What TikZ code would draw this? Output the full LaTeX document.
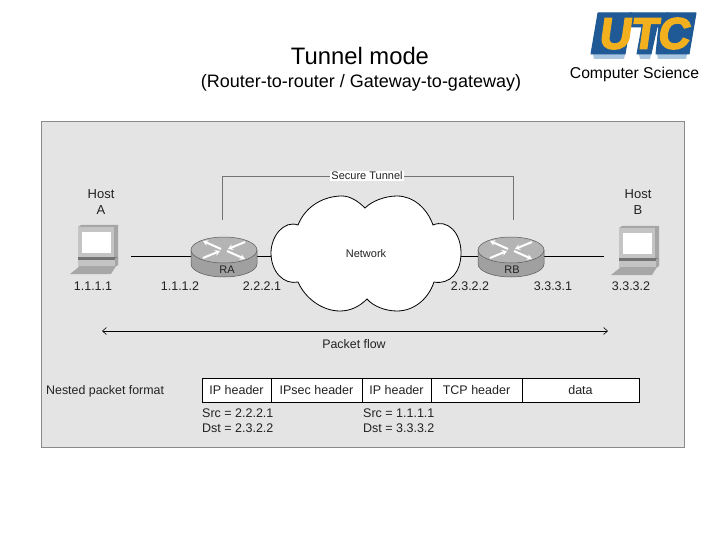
\documentclass[tikz,border=0pt]{standalone}
\usepackage{fontspec}
\setmainfont{Liberation Sans}
\newfontfamily\logofont[FakeSlant=0.14,FakeBold=3.5]{Liberation Sans Bold}
\usetikzlibrary{arrows.meta}
\definecolor{panelbg}{HTML}{E4E4E4}
\definecolor{panelline}{HTML}{8A8A8A}
\definecolor{txt}{HTML}{222222}
\definecolor{routertop}{HTML}{B4B4B4}
\definecolor{routerside}{HTML}{A0A0A0}
\definecolor{hostdark}{HTML}{A6A6A6}
\definecolor{hostmid}{HTML}{C4C4C4}
\definecolor{logoblue}{HTML}{1F5A96}
\definecolor{logogold}{HTML}{F2B01E}
\definecolor{logoshadow}{HTML}{A9C6E0}
\tikzset{
  lab/.style={font=\fontsize{12.5}{14}\selectfont,text=txt,inner sep=0pt},
  small/.style={font=\fontsize{12.4}{14}\selectfont,text=txt,inner sep=0pt},
  tiny/.style={font=\fontsize{11}{13}\selectfont,text=txt,inner sep=0pt},
  cell/.style={draw=black,line width=0.9pt,fill=white,inner sep=0pt,font=\fontsize{12.5}{14}\selectfont,text=txt},
  wire/.style={black,line width=0.9pt},
  tunnel/.style={draw=black!55,line width=0.8pt},
  crossarrow/.style={white,line width=2pt,-{Stealth[length=5pt,width=6pt]}},
}
\newcommand{\routerpic}[1]{%
  \begin{scope}[shift={(#1)}]
    \fill[routerside] (-33,0) -- (-33,14) arc[start angle=180,end angle=0,x radius=33,y radius=13] -- (33,0) -- cycle;
    \draw[black!65,line width=0.5pt] (-33,0) -- (-33,14) arc[start angle=180,end angle=0,x radius=33,y radius=13] -- (33,0);
    \fill[routertop,draw=black!65,line width=0.5pt] (0,0) ellipse[x radius=33,y radius=13];
    \draw[crossarrow] (-3,-1) -- (-21,-9);
    \draw[crossarrow] (3,1) -- (21,9);
    \draw[crossarrow] (-21,8) -- (-4,1);
    \draw[crossarrow] (21,-8) -- (4,-1);
  \end{scope}}
\newcommand{\hostpic}[1]{%
  \begin{scope}[shift={(#1)}]
    \fill[hostdark] (0,2) -- (3,0) -- (40,0) -- (40,40) -- (0,40) -- cycle;
    \fill[hostmid] (0,2) rectangle (36,32);
    \fill[white] (4,7) rectangle (33,28);
    \fill[black!55] (0,32) rectangle (40,35);
    \fill[hostmid] (0,35) rectangle (37,42);
    \fill[hostdark] (37,33) -- (40,32) -- (40,40) -- (37,42) -- cycle;
    \fill[hostmid!85!black] (2,41) -- (38,41) -- (33,49) -- (-8,49) -- cycle;
  \end{scope}}
\begin{document}
\begin{tikzpicture}[x=1pt,y=-1pt]
\useasboundingbox (0,0) rectangle (720,540);
\fill[white] (0,0) rectangle (720,540);
% titles
\node[font=\fontsize{23.8}{26}\selectfont,inner sep=0pt] (title) at (360,56) {Tunnel mode};
\node[font=\fontsize{18}{21}\selectfont,inner sep=0pt] (subtitle) at (361,82.5) {(Router-to-router / Gateway-to-gateway)};
\node[font=\fontsize{15.7}{18}\selectfont,inner sep=0pt] (dept) at (634.5,74.5) {Computer Science};
% logo
\fill[logoshadow] (592,50) -- (626,50) -- (624,59) -- (594,59) -- cycle;
\fill[logoshadow] (638,50) -- (652,50) -- (650,59) -- (640,59) -- cycle;
\fill[logoshadow] (656,50) -- (688,50) -- (686,59) -- (658,59) -- cycle;
\fill[logoblue,draw=logoblue,line width=1pt,line join=round] (598,13) -- (632,13) -- (625,54) -- (591,54) -- cycle;
\fill[logoblue,draw=logoblue,line width=1pt,line join=round] (630,13) -- (668,13) -- (665,27) -- (657,27) -- (651,54) -- (637,54) -- (642,27) -- (627,27) -- cycle;
\fill[logoblue,draw=logoblue,line width=1pt,line join=round] (667,13) -- (696,13) -- (689,54) -- (656,54) -- (659,25) -- cycle;
\node[font=\logofont\fontsize{44}{44}\selectfont,text=logogold,inner sep=0pt] (logo) at (643.5,33.5) {UTC};
% panel
\fill[panelbg,draw=panelline,line width=1pt] (41,122) rectangle (684,447);
% tunnel
\coordinate (ta) at (222,220);
\coordinate (tb) at (513,220);
\node[tiny,fill=white,inner xsep=1pt,inner ysep=1pt] (tun) at (367,176) {Secure Tunnel};
\draw[tunnel] (ta) |- (tun);
\draw[tunnel] (tb) |- (tun);
% wires
\coordinate (ha) at (131,256.5);
\coordinate (ra1) at (191,256.5);
\coordinate (ra2) at (257,256.5);
\coordinate (c1) at (271,256.5);
\coordinate (c2) at (461,256.5);
\coordinate (rb1) at (478,256.5);
\coordinate (rb2) at (544,256.5);
\coordinate (hb) at (604,256.5);
\draw[wire] (ha) -- (ra1);
\draw[wire] (ra2) -- (c1);
\draw[wire] (c2) -- (rb1);
\draw[wire] (rb2) -- (hb);
% cloud
\draw[fill=white,draw=black,line width=0.8pt]
  (298,225) .. controls (306,205) and (325,196) .. (342,196)
  .. controls (350,196) and (358,201) .. (365,208)
  .. controls (372,201) and (385,196) .. (397,196)
  .. controls (413,196) and (427,208) .. (433,225)
  .. controls (447,219) and (461,232) .. (461,253)
  .. controls (461,272) and (450,285) .. (434,282)
  .. controls (428,300) and (413,311) .. (397,311)
  .. controls (385,311) and (373,306) .. (367,299)
  .. controls (360,306) and (351,311) .. (340,311)
  .. controls (322,311) and (305,298) .. (298,282)
  .. controls (284,285) and (271,272) .. (271,253)
  .. controls (271,236) and (284,220) .. (298,225) -- cycle;
\node[tiny] (net) at (366,254) {Network};
% routers and hosts
\routerpic{224,250}
\routerpic{511,250}
\hostpic{78,225}
\hostpic{619,226}
\node[tiny] (RA) at (227,270) {RA};
\node[tiny] (RB) at (512,270) {RB};
% labels
\node[lab,align=center,font=\fontsize{13}{15.5}\selectfont] (hosta) at (101,202) {Host\\A};
\node[lab,align=center,font=\fontsize{13}{15.5}\selectfont] (hostb) at (638,202) {Host\\B};
\node[lab] at (93,286) {1.1.1.1};
\node[lab] at (180,286) {1.1.1.2};
\node[lab] at (262,286) {2.2.2.1};
\node[lab] at (470,286) {2.3.2.2};
\node[lab] at (553,286) {3.3.3.1};
\node[lab] at (631,286) {3.3.3.2};
% packet flow
\coordinate (pfa) at (102,331);
\coordinate (pfb) at (608,331);
\draw[black,line width=0.6pt,{Straight Barb[length=4pt,width=7pt]}-{Straight Barb[length=4pt,width=7pt]}] (pfa) -- (pfb);
\node[small] (pf) at (354,344) {Packet flow};
% packet format
\node[small,anchor=west] (nested) at (46,391) {Nested packet format};
\node[cell,minimum width=69pt,minimum height=24pt] (c1a) at (236.5,390) {IP header};
\node[cell,minimum width=91pt,minimum height=24pt] (c2a) at (316.5,390) {IPsec header};
\node[cell,minimum width=69pt,minimum height=24pt] (c3a) at (396.5,390) {IP header};
\node[cell,minimum width=91pt,minimum height=24pt] (c4a) at (476.5,390) {TCP header};
\node[cell,minimum width=117pt,minimum height=24pt] (c5a) at (580.5,390) {data};
\node[lab,anchor=west] at (202,413) {Src = 2.2.2.1};
\node[lab,anchor=west] at (202,428.5) {Dst = 2.3.2.2};
\node[lab,anchor=west] at (363,413) {Src = 1.1.1.1};
\node[lab,anchor=west] at (363,428.5) {Dst = 3.3.3.2};
\end{tikzpicture}
\end{document}
